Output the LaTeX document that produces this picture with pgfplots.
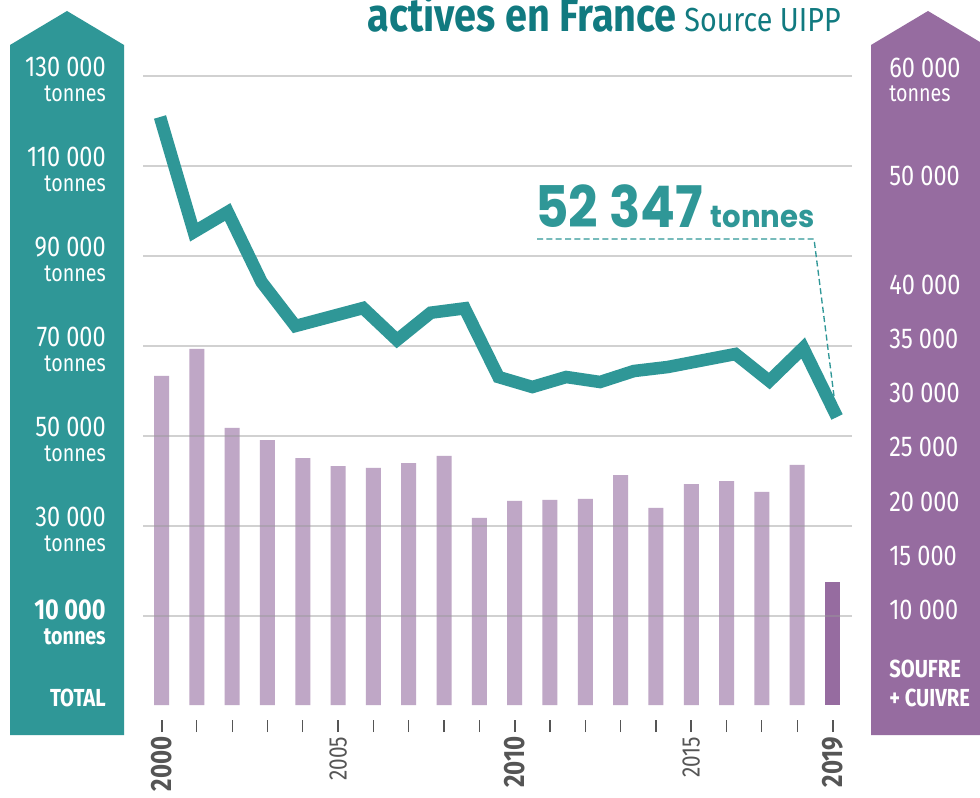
\documentclass[border=0pt]{standalone}
\usepackage{pgfplots}
\pgfplotsset{compat=1.18}
\usepackage{fontspec}
\setmainfont[FakeStretch=0.82]{Fira Sans}
\newfontfamily\titlefont[FakeStretch=0.85]{Fira Sans}
\newfontfamily\srcfont[FakeStretch=0.86]{Fira Sans}
\newfontfamily\annotfont[FakeStretch=0.9]{Poppins}
\newfontfamily\annotsmall[FakeStretch=0.95]{Poppins}
\definecolor{teal1}{RGB}{47,151,151}
\definecolor{tealdark}{RGB}{17,122,128}
\definecolor{purp}{RGB}{150,108,160}
\definecolor{lpurp}{RGB}{191,167,198}
\definecolor{tickgray}{RGB}{85,85,85}
\newcommand{\fs}[1]{\fontsize{#1pt}{#1pt}\selectfont}
\newcommand{\byear}[1]{{\bfseries\fs{22}#1}}

\begin{document}
\begin{tikzpicture}
\begin{scope}[x=0.75pt,y=-0.75pt]
\fill[white] (0,0) rectangle (980,798);
\fill[teal1] (10,45) -- (67,11) -- (124,45) -- (124,735) -- (10,735) -- cycle;
\fill[purp] (871,45) -- (928,11) -- (985,45) -- (985,735) -- (871,735) -- cycle;
\end{scope}

% bars: soufre + cuivre (right scale)
\begin{axis}[at={(107.25pt,-528.75pt)}, anchor=south west, scale only axis,
  width=531.75pt, height=498.75pt,
  xmin=1999.476, xmax=2019.552, ymin=1236, ymax=62583, hide axis]
\addplot[ybar, bar width=11.25pt, bar shift=0pt, fill=lpurp, draw=none] coordinates {
(2000,31600) (2001,34080) (2002,26790) (2003,25680) (2004,24020)
(2005,23280) (2006,23100) (2007,23560) (2008,24210) (2009,18490)
(2010,20060) (2011,20150) (2012,20240) (2013,22450) (2014,19410)
(2015,21620) (2016,21900) (2017,20890) (2018,23380)};
\addplot[ybar, bar width=11.25pt, bar shift=0pt, fill=purp, draw=none] coordinates {(2019,12580)};
\end{axis}

% total line (left scale)
\begin{axis}[at={(107.25pt,-528.75pt)}, anchor=south west, scale only axis,
  width=531.75pt, height=498.75pt,
  xmin=1998.4978, xmax=2019.4431, ymin=-9777.8, ymax=138000,
  axis line style={draw=none}, xtick=\empty, scaled y ticks=false,
  ytick={10000,30000,50000,70000,90000,110000,130000}, yticklabels={},
  major tick length=0pt, ymajorgrids,
  grid style={line width=1.1pt, color=black!40, opacity=0.45}]
\addplot[teal1, line width=9.4pt, line join=miter, miter limit=10] coordinates {
(1999,120890) (2000,95330) (2001,99780) (2002,84220) (2003,74440)
(2004,76440) (2005,78440) (2006,71330) (2007,77400) (2008,78370)
(2009,63110) (2010,60890) (2011,63110) (2012,62000) (2013,64440)
(2014,65330) (2015,66780) (2016,68220) (2017,62220) (2018,69560)
(2019,54220)};
\end{axis}

% year ticks
\begin{axis}[at={(107.25pt,-540pt)}, anchor=south west, scale only axis,
  width=531.75pt, height=5pt,
  xmin=1999.476, xmax=2019.552, ymin=0, ymax=1,
  axis line style={draw=none}, ytick=\empty,
  xtick={2000,2005,2010,2015,2019},
  minor xtick={2001,2002,2003,2004,2006,2007,2008,2009,2011,2012,2013,2014,2016,2017,2018},
  xtick pos=bottom, tick align=outside,
  major tick length=9pt, minor tick length=9pt,
  major tick style={tickgray, line width=1.5pt},
  minor tick style={tickgray, line width=0.9pt},
  xticklabels={\byear{2000},2005,\byear{2010},2015,\byear{2019}},
  xticklabel style={rotate=90, anchor=east, font=\fs{19}, text=tickgray}]
\end{axis}

\begin{scope}[x=0.75pt,y=-0.75pt]
% annotation
\node[anchor=base west, text=teal1, font=\annotfont\bfseries\fs{43}, inner sep=0] at (535,228) {52 347};
\node[anchor=base east, text=teal1, font=\annotsmall\bfseries\fs{23}, inner sep=0] at (815,228) {tonnes};
\draw[teal1, line width=1pt, dash pattern=on 4.5pt off 2.5pt] (537,239) -- (814,239) -- (835,404);

% title
\node[anchor=base east, inner sep=0, text=tealdark] at (841,32) {\titlefont\bfseries\fs{35}actives en France\srcfont\mdseries\fs{25}\ Source UIPP};

% left labels
\foreach \v/\y in {130 000/76, 110 000/166, 90 000/256, 70 000/346, 50 000/436, 30 000/526} {
  \node[anchor=east, text=white, font=\fs{21.5}, inner sep=0] at (106,\y-9) {\v};
  \node[anchor=east, text=white, font=\fs{18}, inner sep=0] at (106,\y+18) {tonnes};
}
\node[anchor=east, text=white, font=\bfseries\fs{21.5}, inner sep=0] at (106,610) {10 000};
\node[anchor=east, text=white, font=\bfseries\fs{18}, inner sep=0] at (106,637) {tonnes};
\node[anchor=east, text=white, font=\bfseries\fs{18.5}, inner sep=0] at (106,698) {TOTAL};

% right labels
\node[anchor=west, text=white, font=\fs{21.5}, inner sep=0] at (889,68) {60 000};
\node[anchor=west, text=white, font=\fs{18}, inner sep=0] at (889,94) {tonnes};
\foreach \v/\y in {50 000/176, 40 000/285, 35 000/339, 30 000/393, 25 000/447, 20 000/502, 15 000/556, 10 000/610} {
  \node[anchor=west, text=white, font=\fs{21.5}, inner sep=0] at (889,\y) {\v};
}
\node[anchor=west, text=white, font=\bfseries\fs{18.5}, inner sep=0] at (889,669) {SOUFRE};
\node[anchor=west, text=white, font=\bfseries\fs{18.5}, inner sep=0] at (889,698) {+ CUIVRE};
\end{scope}
\pgfresetboundingbox
\path[use as bounding box] (0pt,0pt) rectangle (735pt,-598.5pt);
\end{tikzpicture}
\end{document}
